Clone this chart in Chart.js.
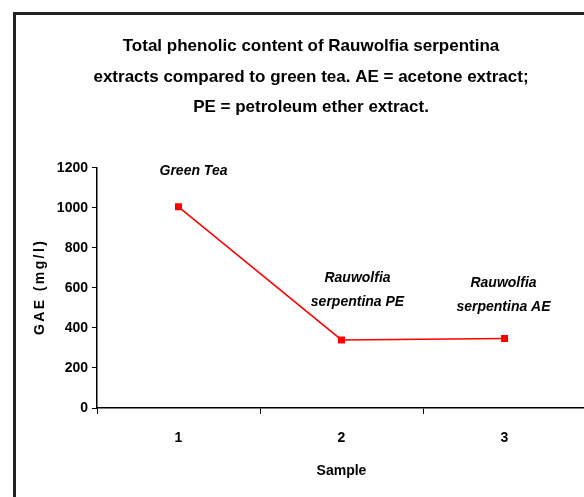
<!DOCTYPE html>
<html lang="en">
<head>
    <meta charset="UTF-8">
    <title>Total phenolic content</title>
    <style>
        body { margin: 0; padding: 0; background: #fff; overflow: hidden; }
        #wrap { position: relative; width: 600px; height: 497px; }
        #frame { position: absolute; left: 13px; top: 12px; width: 700px; height: 600px; border: 3px solid #222; pointer-events: none; }
        canvas { position: absolute; left: 0; top: 0; }
    </style>
</head>
<body>

<div id="wrap">
    <canvas id="chart" width="600" height="497"></canvas>
    <div id="frame"></div>
</div>

<script src="https://cdn.jsdelivr.net/npm/chart.js"></script>
<script>
// data
const samples = ['1', '2', '3'];
const gae = [1005, 340, 347];
const pointNames = [['Green Tea'], ['Rauwolfia', 'serpentina PE'], ['Rauwolfia', 'serpentina AE']];
const yTicks = [0, 200, 400, 600, 800, 1000, 1200];

const fontFamily = '"Liberation Sans", Arial, sans-serif';

// where the hand placed labels sit relative to their point
const labelDx = [15, 16, -1];
const labelDy = [-36, -62, -55];

const pointLabels = {
    id: 'pointLabels',
    afterDatasetsDraw(chart) {
        const ctx = chart.ctx;
        const meta = chart.getDatasetMeta(0);
        ctx.save();
        ctx.font = 'italic bold 14px ' + fontFamily;
        ctx.fillStyle = '#000';
        ctx.textAlign = 'center';
        ctx.textBaseline = 'middle';
        meta.data.forEach((pt, i) => {
            pointNames[i].forEach((line, j) => {
                ctx.fillText(line, pt.x + labelDx[i], pt.y + labelDy[i] + j * 24);
            });
        });
        ctx.restore();
    }
};

// y title drawn by hand, it is letter spaced in the original
const yTitle = {
    id: 'yTitle',
    afterDraw(chart) {
        const ctx = chart.ctx;
        const a = chart.chartArea;
        ctx.save();
        ctx.translate(40, (a.top + a.bottom) / 2 - 1);
        ctx.rotate(-Math.PI / 2);
        ctx.font = 'bold 14px ' + fontFamily;
        ctx.letterSpacing = '2.4px';
        ctx.fillStyle = '#000';
        ctx.textAlign = 'center';
        ctx.textBaseline = 'middle';
        ctx.fillText('GAE (mg/l)', 0, 0);
        ctx.restore();
    }
};

new Chart(document.getElementById('chart').getContext('2d'), {
    type: 'line',
    data: {
        labels: samples,
        datasets: [{
            label: 'GAE',
            data: gae,
            borderColor: '#ff0000',
            borderWidth: 1.5,
            backgroundColor: '#ff0000',
            pointStyle: 'rect',
            pointRadius: 5,
            pointBorderWidth: 0,
            tension: 0
        }]
    },
    options: {
        responsive: false,
        animation: false,
        layout: { padding: { top: 31, right: 14, bottom: 0, left: 36 } },
        plugins: {
            legend: { display: false },
            tooltip: { enabled: false },
            title: {
                display: true,
                text: ['Total phenolic content of Rauwolfia serpentina',
                       'extracts compared to green tea. AE = acetone extract;',
                       'PE = petroleum ether extract.'],
                color: '#000',
                font: { family: fontFamily, size: 17, weight: 'bold', lineHeight: 1.8 },
                padding: { top: 0, bottom: 45 }
            }
        },
        scales: {
            x: {
                type: 'category',
                offset: true,
                afterFit: s => { s.height = 89; },
                grid: { offset: true, drawOnChartArea: false, tickLength: 6, color: '#000', lineWidth: 1 },
                border: { color: '#000', width: 1.5 },
                ticks: { color: '#000', padding: 16, font: { family: fontFamily, size: 14, weight: 'bold' } },
                title: {
                    display: true, text: 'Sample', color: '#000',
                    font: { family: fontFamily, size: 14, weight: 'bold' },
                    padding: { top: 0, bottom: 17 }
                }
            },
            y: {
                min: yTicks[0],
                max: yTicks[yTicks.length - 1],
                afterFit: s => { s.width = 61; },
                afterBuildTicks: s => { s.ticks = yTicks.map(v => ({ value: v })); },
                grid: { drawOnChartArea: false, tickLength: 5, color: '#000', lineWidth: 1 },
                border: { color: '#000', width: 1.5 },
                ticks: {
                    color: '#000', padding: 4,
                    font: { family: fontFamily, size: 14, weight: 'bold' },
                    callback: v => String(v)
                }
            }
        }
    },
    plugins: [pointLabels, yTitle]
});
</script>

</body>
</html>
